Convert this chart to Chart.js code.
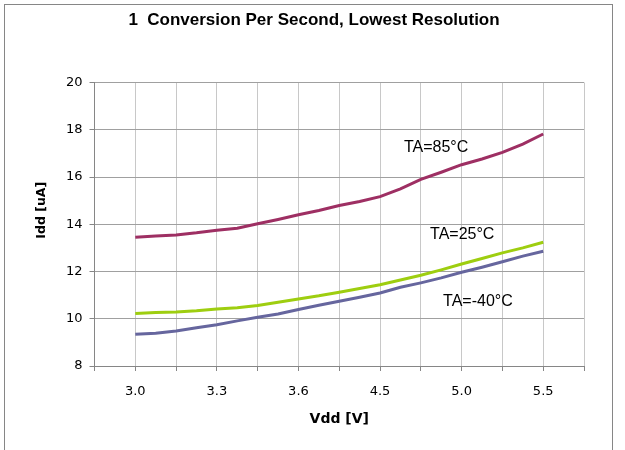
<!DOCTYPE html>
<html>
<head>
<meta charset="utf-8">
<script src="https://cdn.jsdelivr.net/npm/chart.js@4.4.0/dist/chart.umd.min.js"></script>
<style>
  html, body { margin: 0; padding: 0; background: #fff; }
  #wrap { position: relative; width: 625px; height: 450px; overflow: hidden; }
  #frame { position: absolute; left: 4px; top: 4px; width: 607px; height: 460px; border: 1px solid #868686; pointer-events: none; }
</style>
</head>
<body>
<div id="wrap">
  <canvas id="chart" width="625" height="450"></canvas>
  <div id="frame"></div>
</div>
<script>
// category positions: two per gridline, labels every fourth
const categories = ['', '', '3.0', '', '', '', '3.3', '', '', '', '3.6', '', '', '',
  '4.5', '', '', '', '5.0', '', '', '', '5.5', '', ''];

const ta85 = [null, null, 13.45, 13.50, 13.55, 13.64, 13.75, 13.83, 14.02, 14.20, 14.40,
  14.58, 14.79, 14.96, 15.17, 15.50, 15.90, 16.20, 16.52, 16.76, 17.04, 17.39, 17.82, null, null];
const ta25 = [null, null, 10.22, 10.26, 10.29, 10.34, 10.41, 10.47, 10.56, 10.70, 10.84,
  10.97, 11.12, 11.28, 11.44, 11.64, 11.84, 12.07, 12.32, 12.55, 12.79, 13.00, 13.24, null, null];
const taM40 = [null, null, 9.34, 9.39, 9.48, 9.62, 9.75, 9.91, 10.06, 10.20, 10.39,
  10.57, 10.74, 10.91, 11.09, 11.33, 11.52, 11.73, 11.97, 12.18, 12.41, 12.65, 12.86, null, null];

// curve labels, anchored in data units (category index, Idd)
const noteText = ['TA=85°C', 'TA=25°C', 'TA=-40°C'];
const noteIdx = [16.75, 18.03, 18.8];
const noteVal = [17.26, 13.55, 10.73];

const chartTitle = '1  Conversion Per Second, Lowest Resolution';

const curveNotes = {
  id: 'curveNotes',
  afterDatasetsDraw(chart) {
    const { ctx, chartArea, scales: { x, y } } = chart;
    ctx.save();
    ctx.fillStyle = '#000';
    ctx.textAlign = 'center';
    ctx.textBaseline = 'middle';

    // title is centred on the outer frame, not on the plot
    ctx.font = 'bold 17px "Liberation Sans", Arial, sans-serif';
    ctx.fillText(chartTitle, 314, 20);

    ctx.font = '16px "Liberation Sans", Arial, sans-serif';
    noteText.forEach((t, i) => {
      ctx.fillText(t, x.getPixelForValue(noteIdx[i]), y.getPixelForValue(noteVal[i]));
    });

    // y axis title, sits a little above the axis middle
    ctx.font = 'bold 12.5px "DejaVu Sans", sans-serif';
    ctx.translate(42, (chartArea.top + chartArea.bottom) / 2 - 14);
    ctx.rotate(-Math.PI / 2);
    ctx.fillText('Idd [uA]', 0, 0);
    ctx.restore();
  }
};

const ctx = document.getElementById('chart').getContext('2d');
new Chart(ctx, {
  type: 'line',
  data: {
    labels: categories,
    datasets: [
      { label: 'TA=85°C', data: ta85, borderColor: '#9E2F63' },
      { label: 'TA=25°C', data: ta25, borderColor: '#9ECE10' },
      { label: 'TA=-40°C', data: taM40, borderColor: '#66669E' }
    ]
  },
  options: {
    responsive: false,
    animation: false,
    events: [],
    elements: {
      line: { borderWidth: 3, tension: 0, fill: false },
      point: { radius: 0 }
    },
    layout: {
      padding: { left: 0, right: 41, top: 82.5, bottom: 0 }
    },
    scales: {
      x: {
        type: 'category',
        offset: false,
        afterFit: function(scale) { scale.height = 84; },
        grid: {
          color: function(c) { return c.index % 2 === 0 ? '#c8c8c8' : 'rgba(0,0,0,0)'; },
          tickColor: function(c) { return c.index % 2 === 0 ? '#868686' : 'rgba(0,0,0,0)'; },
          tickLength: 5
        },
        border: { color: '#868686' },
        ticks: {
          autoSkip: false,
          maxRotation: 0,
          padding: 13,
          color: '#000',
          font: { family: '"DejaVu Sans", sans-serif', size: 13 }
        },
        title: {
          display: true,
          text: 'Vdd [V]',
          color: '#000',
          padding: { top: 0, bottom: 22 },
          font: { family: '"DejaVu Sans", sans-serif', size: 14, weight: 'bold' }
        }
      },
      y: {
        min: 8,
        max: 20,
        afterFit: function(scale) { scale.width = 94.5; },
        grid: { color: '#a0a0a0', tickColor: '#868686', tickLength: 5 },
        border: { color: '#868686' },
        ticks: {
          stepSize: 2,
          padding: 7,
          color: '#000',
          font: { family: '"DejaVu Sans", sans-serif', size: 13 }
        },
        title: { display: false }
      }
    },
    plugins: {
      legend: { display: false },
      tooltip: { enabled: false },
      title: { display: false }
    }
  },
  plugins: [curveNotes]
});
</script>
</body>
</html>
